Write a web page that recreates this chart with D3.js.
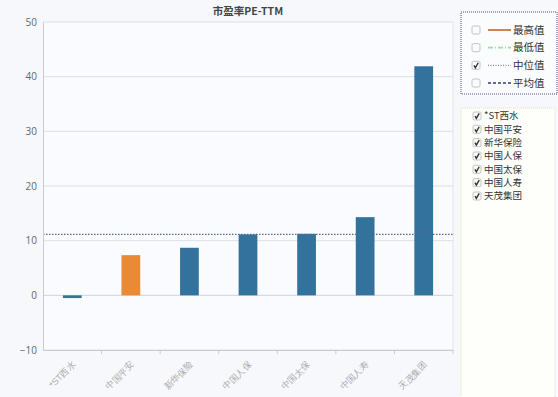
<!DOCTYPE html>
<html>
<head>
<meta charset="utf-8">
<script src="https://cdn.jsdelivr.net/npm/d3@7"></script>
<style>
  body { margin: 0; background: #f7f8fc; }
  svg { display: block; font-family: "Noto Sans CJK SC", "Noto Sans", sans-serif; }
</style>
</head>
<body>
<svg></svg>
<script>
const categories = ['*ST西水', '中国平安', '新华保险', '中国人保', '中国太保', '中国人寿', '天茂集团']
const peValues = [-0.5, 7.35, 8.7, 11.15, 11.25, 14.3, 41.9]
const highlight = '中国平安'
const yTicks = [-10, 0, 10, 20, 30, 40, 50]
const statItems = ['最高值', '最低值', '中位值', '平均值']
const statChecked = [false, false, true, false]

const width = 558
const height = 397
const margin = { top: 22, right: 105, bottom: 47, left: 43 }
const plotW = 453 - margin.left
const plotH = 350 - margin.top

const svg = d3.select('svg').attr('width', width).attr('height', height)

svg.append('rect').attr('width', width).attr('height', height).attr('fill', '#f7f8fc')

const xScale = d3.scaleBand().domain(categories).range([0, plotW])
const yScale = d3.scaleLinear().domain([-10, 50]).range([plotH, 0])

const g = svg.append('g').attr('transform', `translate(${margin.left}, ${margin.top})`)

g.append('rect').attr('width', plotW).attr('height', plotH).attr('fill', '#fafbfe')

// grid
g.selectAll('.grid')
 .data(yTicks)
 .join('line')
 .attr('x1', 0).attr('x2', plotW)
 .attr('y1', d => yScale(d)).attr('y2', d => yScale(d))
 .attr('stroke', d => d === 0 ? '#cfd2d8' : '#dcdfe4')
 .attr('stroke-width', 1)

// right border
g.append('line')
 .attr('x1', plotW).attr('x2', plotW).attr('y1', 0).attr('y2', plotH)
 .attr('stroke', '#e2e4e8')

// bars
const barW = xScale.bandwidth() * 0.32
g.selectAll('.bar')
 .data(categories)
 .join('rect')
 .attr('x', d => xScale(d) + (xScale.bandwidth() - barW) / 2)
 .attr('width', barW)
 .attr('y', (d, i) => yScale(Math.max(0, peValues[i])))
 .attr('height', (d, i) => Math.abs(yScale(peValues[i]) - yScale(0)))
 .attr('fill', d => d === highlight ? '#e98a36' : (d === '*ST西水' ? '#3a7486' : '#33729c'))

// median line
const median = d3.median(peValues)
g.append('line')
 .attr('x1', 0).attr('x2', plotW)
 .attr('y1', yScale(median)).attr('y2', yScale(median))
 .attr('stroke', '#5a6a86')
 .attr('stroke-width', 1.2)
 .attr('stroke-dasharray', '1.5,1.5')

// y axis
const yAxis = d3.axisLeft(yScale).tickValues(yTicks).tickSize(0).tickPadding(6)
const yg = g.append('g').call(yAxis)
yg.select('.domain').attr('stroke', '#c8cbd1')
yg.selectAll('text').attr('fill', '#666').style('font-size', '10px').style('font-family', '"Open Sans", sans-serif')

// x axis at bottom
const xAxis = d3.axisBottom(xScale).tickSize(0).tickPadding(0)
const xg = g.append('g').attr('transform', `translate(0, ${plotH})`).call(xAxis)
xg.select('.domain').attr('stroke', '#c8cbd1')
xg.selectAll('.tick text')
  .attr('fill', '#a8a8a8')
  .style('font-size', '9px')
  .attr('text-anchor', 'end')
  .attr('transform', 'translate(2, 13) rotate(-45)')
  .attr('dy', '0.3em')

g.selectAll('.xtick')
 .data(categories.slice(1).concat(['end']))
 .join('line')
 .attr('x1', (d, i) => xScale.step() * (i + 1)).attr('x2', (d, i) => xScale.step() * (i + 1))
 .attr('y1', plotH).attr('y2', plotH + 4)
 .attr('stroke', '#c8cbd1')

// title
svg.append('text')
   .text('市盈率PE-TTM')
   .attr('x', 248).attr('y', 15)
   .attr('text-anchor', 'middle')
   .attr('fill', '#444')
   .style('font-size', '10.5px')
   .style('font-weight', 'bold')

// checkbox helper
const checkbox = (sel, x, y, checked, size) => {
  sel.append('rect')
     .attr('x', x).attr('y', y - size / 2).attr('width', size).attr('height', size)
     .attr('rx', 1.5)
     .attr('fill', '#fbfbfb').attr('stroke', '#b5b5b5').attr('stroke-width', 0.8)
  if (checked) {
    sel.append('path')
       .attr('d', `M${x + 2},${y} L${x + size * 0.42},${y + size * 0.3} L${x + size - 1.8},${y - size * 0.32}`)
       .attr('fill', 'none').attr('stroke', '#333').attr('stroke-width', 1.4)
  }
}

// legend 1 (stat lines)
const leg1 = svg.append('g')
leg1.append('rect')
    .attr('x', 461).attr('y', 12).attr('width', 96).attr('height', 82)
    .attr('fill', '#fbfcfe')
    .attr('stroke', '#4a4f8a').attr('stroke-width', 1).attr('stroke-dasharray', '1,1')

const statStyles = [
  { color: '#c4652c', dash: null, width: 1.6 },
  { color: '#9be39b', dash: '5,2,1,2', width: 1.6 },
  { color: '#6a7486', dash: '1,1.5', width: 1 },
  { color: '#2e3a8a', dash: '3,2', width: 1.6 }
]
const statY = d3.scalePoint().domain(statItems).range([30, 83])
statItems.forEach((s, i) => {
  const y = statY(s)
  checkbox(leg1, 472, y, statChecked[i], 8)
  leg1.append('line')
      .attr('x1', 488).attr('x2', 511).attr('y1', y).attr('y2', y)
      .attr('stroke', statStyles[i].color)
      .attr('stroke-width', statStyles[i].width)
      .attr('stroke-dasharray', statStyles[i].dash)
  leg1.append('text')
      .text(s).attr('x', 513).attr('y', y).attr('dy', '0.35em')
      .attr('fill', '#333').style('font-size', '10.5px')
})

// legend 2 (companies)
const leg2 = svg.append('g')
leg2.append('rect')
    .attr('x', 461).attr('y', 108).attr('width', 94).attr('height', 295)
    .attr('fill', '#fefefb')
    .attr('stroke', '#eadfb8').attr('stroke-width', 1).attr('stroke-dasharray', '1,1')

const compY = d3.scalePoint().domain(categories).range([116, 196])
categories.forEach(c => {
  const y = compY(c)
  checkbox(leg2, 473, y, true, 8)
  leg2.append('text')
      .text(c).attr('x', 484).attr('y', y).attr('dy', '0.35em')
      .attr('fill', '#333').style('font-size', '9.5px')
})
</script>
</body>
</html>
